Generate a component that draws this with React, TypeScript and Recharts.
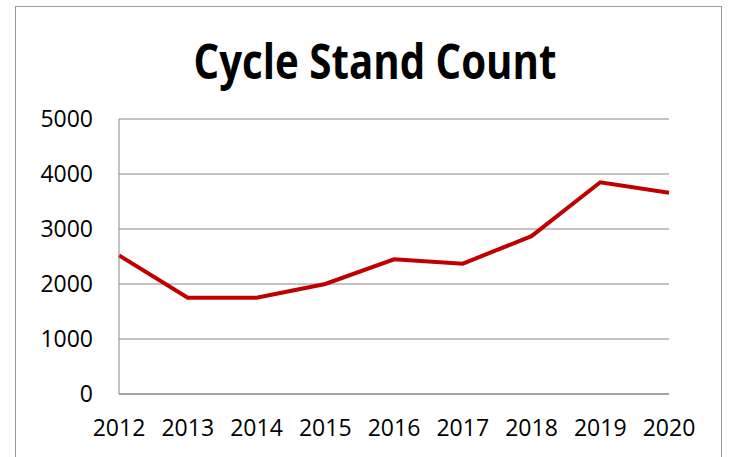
import React from "react";
import { LineChart, Line, XAxis, YAxis, CartesianGrid } from "recharts";

const years = ["2012", "2013", "2014", "2015", "2016", "2017", "2018", "2019", "2020"];
const counts = [2520, 1750, 1750, 2000, 2450, 2370, 2870, 3850, 3660];
const yTicks = [0, 1000, 2000, 3000, 4000, 5000];
const title = "Cycle Stand Count";

const data = years.map((y, i) => ({ year: y, count: counts[i] }));

const FONT = "'Open Sans', 'DejaVu Sans', sans-serif";

export default function App() {
  return (
    <div
      style={{
        position: "fixed",
        left: 0,
        top: 0,
        width: 729,
        height: 457,
        background: "#fff",
        overflow: "hidden",
      }}
    >
      <div
        style={{
          position: "absolute",
          left: 15,
          top: 6,
          width: 707,
          height: 470,
          border: "1px solid #9a9a9a",
          boxSizing: "border-box",
        }}
      />
      <div style={{ position: "absolute", left: 0, top: 0 }}>
        <LineChart
          width={729}
          height={457}
          data={data}
          margin={{ top: 119, right: 60, bottom: 0, left: 0 }}
        >
          <CartesianGrid vertical={false} stroke="#878787" strokeWidth={1} />
          <XAxis
            dataKey="year"
            height={63}
            axisLine={{ stroke: "#878787" }}
            tickLine={false}
            tickSize={0}
            tickMargin={26}
            interval={0}
            tick={{ fill: "#000", fontSize: 23, fontFamily: FONT }}
          />
          <YAxis
            width={119}
            domain={[0, 5000]}
            ticks={yTicks}
            axisLine={{ stroke: "#878787" }}
            tickLine={false}
            tickSize={0}
            tickMargin={26}
            tick={{ fill: "#000", fontSize: 23, fontFamily: FONT }}
          />
          <Line
            type="linear"
            dataKey="count"
            stroke="#C00000"
            strokeWidth={4}
            dot={false}
            activeDot={false}
            isAnimationActive={false}
          />
        </LineChart>
      </div>
      <svg
        width={729}
        height={110}
        style={{ position: "absolute", left: 0, top: 0 }}
      >
        <text
          x={375}
          y={79}
          textAnchor="middle"
          fontFamily={FONT}
          fontWeight="bold"
          fontSize={49}
          fill="#000"
          textLength={363}
          lengthAdjust="spacingAndGlyphs"
        >
          {title}
        </text>
      </svg>
    </div>
  );
}
